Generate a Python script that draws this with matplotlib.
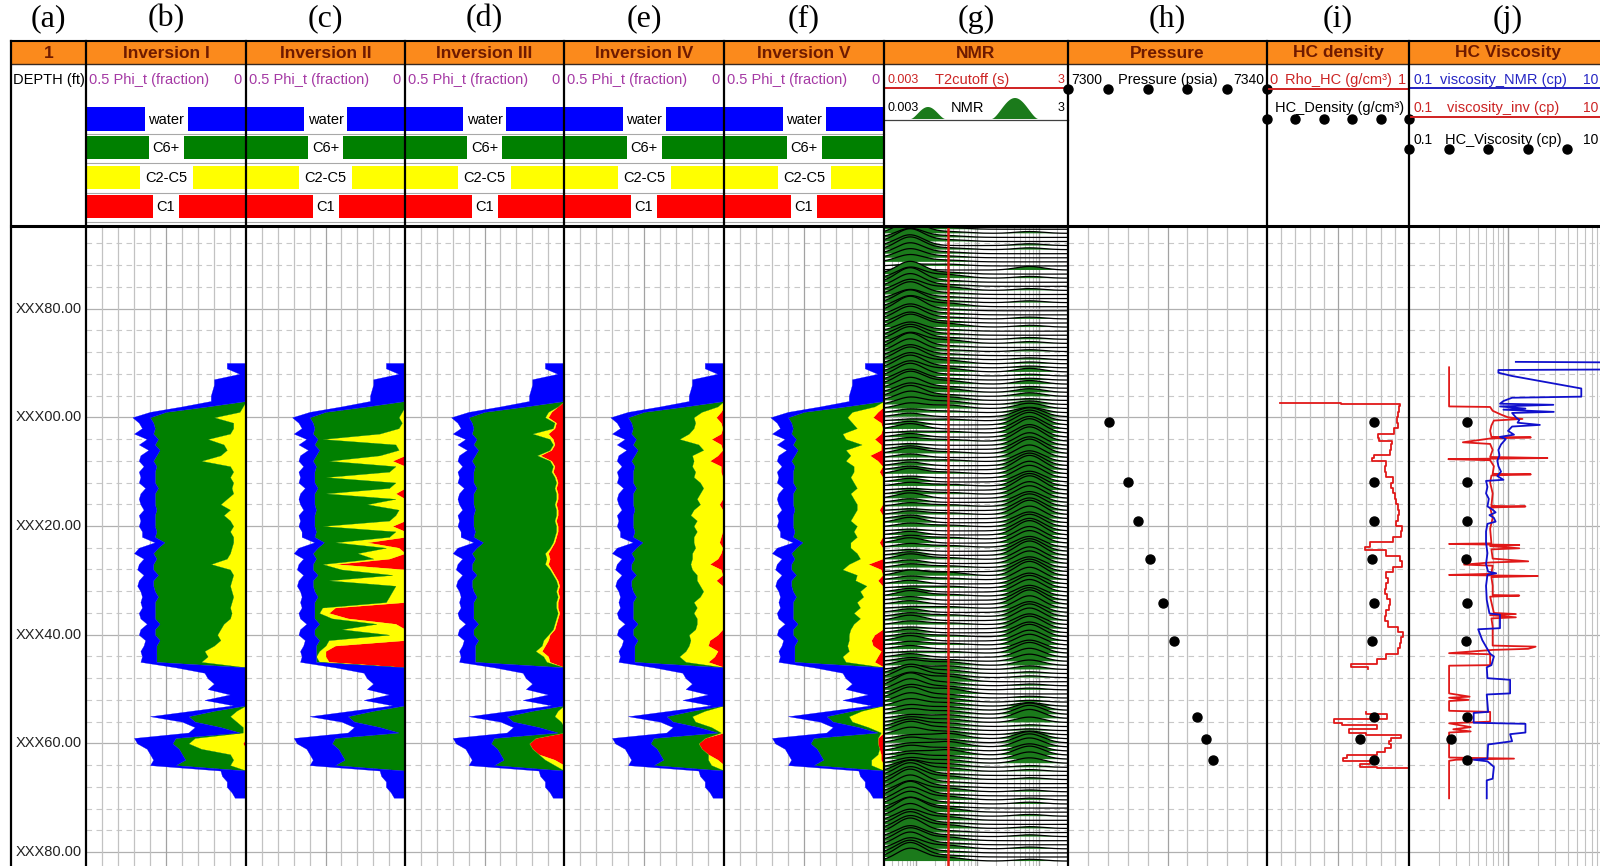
import numpy as np
import matplotlib.pyplot as plt
from matplotlib.patches import Rectangle

plt.rcParams['font.family'] = ['Liberation Sans', 'DejaVu Sans']

# ----------------------------
# Data
# ----------------------------
PANEL_TAGS = ["(a)", "(b)", "(c)", "(d)", "(e)", "(f)", "(g)", "(h)", "(i)", "(j)"]
TRACK_TITLES = ["1", "Inversion I", "Inversion II", "Inversion III", "Inversion IV",
                "Inversion V", "NMR", "Pressure", "HC density", "HC Viscosity"]
COMPONENTS = ["water", "C6+", "C2-C5", "C1"]

DEPTH_TICKS = [-20, 0, 20, 40, 60, 80]
DEPTH_LABELS = ["XXX80.00", "XXX00.00", "XXX20.00", "XXX40.00", "XXX60.00", "XXX80.00"]

# inversion logs, one sample per foot from -10 to 70
INV_DEPTH = np.arange(-10, 71)
PHI_T = [
    0.06, 0.06, 0.02, 0.10, 0.10, 0.105, 0.11, 0.11, 0.20, 0.30,
    0.355, 0.335, 0.325, 0.35, 0.31, 0.335, 0.305, 0.33, 0.335, 0.32,
    0.335, 0.33, 0.335, 0.315, 0.33, 0.335, 0.33, 0.32, 0.335, 0.33,
    0.335, 0.325, 0.325, 0.285, 0.335, 0.35, 0.32, 0.335, 0.34, 0.32,
    0.335, 0.34, 0.33, 0.325, 0.33, 0.325, 0.335, 0.33, 0.31, 0.33,
    0.335, 0.315, 0.32, 0.33, 0.325, 0.33, 0.22, 0.13, 0.12, 0.10,
    0.12, 0.05, 0.13, 0.04, 0.17, 0.30, 0.20, 0.16, 0.18, 0.35,
    0.34, 0.31, 0.30, 0.29, 0.30, 0.08, 0.075, 0.06, 0.06, 0.045,
    0.035,
]
WATER = [
    0.06, 0.06, 0.02, 0.10, 0.10, 0.105, 0.11, 0.11, 0.08, 0.05,
    0.055, 0.045, 0.04, 0.06, 0.035, 0.05, 0.035, 0.05, 0.045, 0.04,
    0.05, 0.045, 0.05, 0.04, 0.045, 0.05, 0.045, 0.04, 0.05, 0.045,
    0.05, 0.045, 0.04, 0.03, 0.06, 0.06, 0.04, 0.045, 0.05, 0.045,
    0.045, 0.05, 0.045, 0.05, 0.045, 0.04, 0.05, 0.045, 0.04, 0.045,
    0.05, 0.045, 0.04, 0.05, 0.045, 0.05, 0.22, 0.13, 0.12, 0.10,
    0.12, 0.05, 0.13, 0.04, 0.07, 0.12, 0.04, 0.08, 0.16, 0.13,
    0.11, 0.10, 0.10, 0.10, 0.08, 0.08, 0.075, 0.06, 0.06, 0.045,
    0.035,
]

C1_INV1 = [
    0, 0, 0, 0, 0, 0, 0, 0, 0, 0,
    0, 0, 0, 0, 0, 0, 0, 0, 0, 0,
    0, 0, 0, 0, 0, 0, 0, 0, 0, 0,
    0, 0, 0, 0, 0, 0, 0, 0, 0, 0,
    0, 0, 0, 0, 0, 0, 0, 0, 0, 0,
    0, 0, 0, 0, 0, 0, 0, 0, 0, 0,
    0, 0, 0, 0, 0, 0, 0, 0, 0, 0,
    0.01, 0, 0, 0, 0, 0, 0, 0, 0, 0,
    0,
]
C25_INV1 = [
    0, 0, 0, 0, 0, 0, 0, 0, 0.01, 0.02,
    0.10, 0.04, 0.04, 0.05, 0.12, 0.07, 0.06, 0.08, 0.14, 0.05,
    0.04, 0.05, 0.04, 0.045, 0.04, 0.06, 0.08, 0.05, 0.07, 0.05,
    0.04, 0.05, 0.04, 0.04, 0.045, 0.05, 0.06, 0.11, 0.05, 0.04,
    0.045, 0.05, 0.045, 0.04, 0.045, 0.05, 0.045, 0.05, 0.07, 0.08,
    0.09, 0.08, 0.10, 0.13, 0.12, 0.14, 0, 0, 0, 0,
    0, 0, 0, 0, 0.03, 0.05, 0.03, 0.01, 0.01, 0.16,
    0.17, 0.14, 0.05, 0.04, 0.05, 0, 0, 0, 0, 0,
    0,
]

C1_INV2 = [
    0, 0, 0, 0, 0, 0, 0, 0, 0, 0,
    0, 0, 0, 0, 0, 0, 0, 0, 0.04, 0,
    0, 0, 0, 0, 0.03, 0, 0, 0, 0, 0,
    0.04, 0, 0, 0.12, 0.02, 0, 0.05, 0.22, 0, 0,
    0, 0, 0, 0, 0, 0.22, 0.24, 0.18, 0.03, 0,
    0, 0, 0.22, 0.25, 0.25, 0.24, 0, 0, 0, 0,
    0, 0, 0, 0, 0, 0, 0, 0, 0, 0,
    0, 0, 0, 0, 0, 0, 0, 0, 0, 0,
    0,
]
C25_INV2 = [
    0, 0, 0, 0, 0, 0, 0, 0, 0, 0.01,
    0.02, 0.01, 0.02, 0.08, 0.26, 0.03, 0.02, 0.08, 0.20, 0.03,
    0.05, 0.25, 0.03, 0.05, 0.22, 0.03, 0.12, 0.02, 0.03, 0.05,
    0.22, 0.03, 0.05, 0.10, 0.04, 0.15, 0.05, 0.04, 0.20, 0.04,
    0.24, 0.03, 0.04, 0.05, 0.06, 0.04, 0.03, 0.05, 0.06, 0.20,
    0.05, 0.24, 0.03, 0.02, 0.03, 0.03, 0, 0, 0, 0,
    0, 0, 0, 0, 0, 0, 0, 0, 0, 0,
    0, 0, 0, 0, 0, 0, 0, 0, 0, 0,
    0,
]

C1_INV3 = [
    0, 0, 0, 0, 0, 0, 0, 0, 0.02, 0.04,
    0.05, 0.025, 0.03, 0.05, 0.035, 0.03, 0.04, 0.075, 0.04, 0.03,
    0.035, 0.025, 0.02, 0.025, 0.02, 0.02, 0.025, 0.02, 0.02, 0.025,
    0.02, 0.02, 0.025, 0.03, 0.04, 0.05, 0.045, 0.05, 0.04, 0.03,
    0.02, 0.015, 0.02, 0.015, 0.02, 0.02, 0.015, 0.02, 0.025, 0.03,
    0.045, 0.05, 0.06, 0.07, 0.05, 0.045, 0, 0, 0, 0,
    0, 0, 0, 0, 0, 0, 0, 0, 0, 0.09,
    0.11, 0.10, 0.08, 0.03, 0, 0, 0, 0, 0, 0,
    0,
]
C25_INV3 = [
    0, 0, 0, 0, 0, 0, 0, 0, 0, 0.01,
    0.01, 0.005, 0.005, 0.05, 0.01, 0.005, 0.005, 0.01, 0.005, 0.005,
    0.005, 0.005, 0.005, 0.005, 0.005, 0.005, 0.005, 0.005, 0.005, 0.005,
    0.005, 0.005, 0.005, 0.005, 0.005, 0.01, 0.01, 0.01, 0.005, 0.005,
    0.005, 0.005, 0.005, 0.005, 0.005, 0.005, 0.005, 0.005, 0.005, 0.005,
    0.005, 0.015, 0.01, 0.02, 0.015, 0.01, 0, 0, 0, 0,
    0, 0, 0, 0, 0.02, 0.03, 0.01, 0, 0, 0,
    0, 0, 0, 0.03, 0.03, 0, 0, 0, 0, 0,
    0,
]

C1_INV4 = [
    0, 0, 0, 0, 0, 0, 0, 0, 0, 0.01,
    0.025, 0.01, 0.005, 0.01, 0.04, 0.01, 0.005, 0.02, 0.045, 0.01,
    0.01, 0.005, 0.005, 0.005, 0.005, 0.005, 0.015, 0.005, 0.005, 0.005,
    0.005, 0.005, 0.01, 0.015, 0.005, 0.01, 0.02, 0.045, 0.01, 0.005,
    0.025, 0.005, 0.005, 0.005, 0.005, 0.005, 0.005, 0.005, 0.005, 0.005,
    0.02, 0.045, 0.05, 0.02, 0.03, 0.05, 0, 0, 0, 0,
    0, 0, 0, 0, 0, 0, 0, 0, 0, 0.06,
    0.08, 0.07, 0.05, 0.02, 0, 0, 0, 0, 0, 0,
    0,
]
C25_INV4 = [
    0, 0, 0, 0, 0, 0, 0, 0, 0.02, 0.06,
    0.07, 0.08, 0.09, 0.10, 0.10, 0.07, 0.06, 0.08, 0.05, 0.09,
    0.08, 0.09, 0.07, 0.06, 0.07, 0.08, 0.06, 0.09, 0.10, 0.08,
    0.09, 0.08, 0.085, 0.08, 0.085, 0.09, 0.08, 0.06, 0.09, 0.08,
    0.06, 0.07, 0.06, 0.07, 0.09, 0.08, 0.09, 0.08, 0.08, 0.085,
    0.09, 0.06, 0.06, 0.10, 0.11, 0.07, 0, 0, 0, 0,
    0, 0, 0, 0, 0.06, 0.10, 0.09, 0.04, 0.01, 0,
    0, 0, 0, 0.03, 0.04, 0, 0, 0, 0, 0,
    0,
]

C1_INV5 = [
    0, 0, 0, 0, 0, 0, 0, 0, 0, 0.02,
    0.035, 0.01, 0.005, 0.01, 0.03, 0.01, 0.01, 0.045, 0.02, 0.005,
    0.015, 0.005, 0.005, 0.005, 0.005, 0.005, 0.005, 0.015, 0.005, 0.005,
    0.005, 0.005, 0.005, 0.015, 0.005, 0.005, 0.005, 0.05, 0.01, 0.005,
    0.02, 0.005, 0.005, 0.005, 0.005, 0.005, 0.005, 0.005, 0.005, 0.005,
    0.03, 0.04, 0.035, 0.01, 0.02, 0.03, 0, 0, 0, 0,
    0, 0, 0, 0, 0, 0, 0, 0, 0, 0.02,
    0.02, 0.015, 0.01, 0.01, 0, 0, 0, 0, 0, 0,
    0,
]
C25_INV5 = [
    0, 0, 0, 0, 0, 0, 0, 0, 0.03, 0.08,
    0.08, 0.09, 0.08, 0.12, 0.09, 0.06, 0.11, 0.06, 0.10, 0.09,
    0.08, 0.10, 0.09, 0.08, 0.10, 0.09, 0.08, 0.07, 0.09, 0.10,
    0.08, 0.09, 0.08, 0.09, 0.10, 0.08, 0.07, 0.06, 0.12, 0.08,
    0.07, 0.05, 0.07, 0.06, 0.08, 0.07, 0.09, 0.07, 0.09, 0.10,
    0.08, 0.07, 0.08, 0.10, 0.11, 0.09, 0, 0, 0, 0,
    0, 0, 0, 0, 0.07, 0.11, 0.10, 0.05, 0.01, 0,
    0, 0, 0.01, 0.03, 0.04, 0, 0, 0, 0, 0,
    0,
]

# NMR T2 distributions, one row every 0.75 ft: amplitude of the short,
# intermediate and long T2 modes
NMR_TOP = -34.6
NMR_STEP = 0.75
NMR_SHORT = [
    6, 7, 5, 7, 6, 7, 6, 5, 4,
    1, 1,
    7, 6, 8, 7, 6, 7, 5, 7, 6, 8, 6, 7, 6, 7, 5, 6, 7, 6, 8, 7, 6, 7, 6,
    7, 6, 7, 6, 7, 6, 5, 6, 5, 4, 3,
    2, 2, 1, 2, 3, 1, 2, 2, 1, 2, 3, 2, 1, 2, 2, 3, 1, 2, 2, 1, 2, 3,
    2, 2, 1, 2, 2, 3, 2, 1, 2, 2, 3, 2, 1, 2, 3, 2, 2, 1, 3, 2, 2, 1,
    2, 3, 2, 2, 1, 2, 2, 3, 2, 1, 2, 2, 3, 2, 2, 1, 2, 2, 3, 2,
    5, 6, 5, 7, 6, 5, 6, 5, 4,
    3, 3, 2, 3,
    4, 5, 4,
    2, 3, 2, 3, 2, 3, 3, 4,
    6, 7, 7, 8, 7, 6, 8, 7, 7, 6, 8, 7, 6, 7, 7, 8, 6, 7, 7, 6, 7, 8, 7,
]
NMR_MID = [
    1, 1, 1, 1, 0, 1, 1, 1, 1,
    1, 0,
    1, 2, 1, 1, 2, 1, 1, 1, 2, 1, 1, 1, 1, 2, 1, 1, 1, 2, 1, 1, 1, 1, 2,
    1, 2, 1, 1, 2, 1, 2, 1, 2, 2, 2,
    1, 0, 1, 0, 0, 1, 0, 1, 0, 0, 1, 0, 1, 0, 0, 1, 0, 0, 1, 0, 1, 0,
    0, 1, 0, 1, 0, 0, 1, 0, 0, 1, 0, 1, 0, 0, 1, 0, 1, 0, 2, 1, 0, 1,
    0, 1, 0, 0, 1, 0, 1, 0, 1, 0, 0, 1, 0, 1, 0, 1, 0, 1, 2, 2,
    2, 2, 3, 2, 2, 3, 2, 2, 2,
    2, 2, 2, 2,
    2, 2, 2,
    3, 2, 3, 2, 3, 2, 2, 2,
    2, 1, 2, 1, 1, 2, 1, 2, 1, 1, 2, 1, 2, 1, 2, 1, 1, 2, 1, 2, 1, 1, 2,
]
NMR_LONG = [
    0, 1, 0, 0, 1, 1, 0, 0, 0,
    0, 2,
    0, 1, 0, 0, 1, 0, 0, 1, 0, 0, 0, 1, 0, 1, 0, 0, 1, 1, 0, 1, 0, 1, 1,
    1, 2, 1, 1, 2, 1, 2, 2, 1, 2, 3,
    3, 5, 6, 7, 7, 8, 7, 8, 7, 7, 8, 7, 6, 7, 8, 7, 7, 6, 7, 8, 7, 7,
    6, 7, 7, 8, 7, 6, 7, 7, 8, 7, 7, 6, 7, 8, 7, 7, 6, 7, 8, 7, 6, 7,
    7, 6, 7, 8, 7, 6, 7, 7, 6, 7, 6, 7, 6, 6, 5, 6, 5, 4, 3, 2,
    1, 1, 0, 1, 1, 0, 1, 1, 2,
    4, 5, 5, 3,
    1, 1, 2,
    4, 5, 5, 4, 5, 4, 3, 1,
    1, 0, 1, 0, 0, 1, 0, 1, 1, 0, 0, 1, 0, 0, 1, 0, 1, 0, 0, 1, 0, 0, 1,
]
T2_CUTOFF = 0.033

# pressure test stations
PT_DEPTH = [0.8, 11.9, 19.0, 26.0, 34.1, 41.1, 55.2, 59.2, 63.0]
PRESSURE = [7308.2, 7312.0, 7314.0, 7316.5, 7319.0, 7321.4, 7326.0, 7327.8, 7329.1]
HC_DENSITY = [0.756, 0.756, 0.756, 0.737, 0.756, 0.739, 0.752, 0.655, 0.756]
HC_VISCOSITY = [0.385, 0.385, 0.385, 0.378, 0.385, 0.378, 0.385, 0.265, 0.385]

RHO_DEPTH = [
    -2.6, -2.4, -2.0, -1.0, 0.0, 1.0, 2.0, 3.0, 3.8, 4.3,
    5.0, 6.0, 7.0, 7.5, 8.0, 9.0, 10.0, 11.0, 12.0, 13.0,
    14.0, 15.0, 16.0, 17.0, 18.0, 19.0, 20.0, 21.0, 22.0, 23.0,
    23.8, 24.5, 25.5, 26.5, 27.5, 28.5, 29.5, 30.5, 31.5, 32.5,
    33.5, 34.5, 35.5, 36.5, 37.5, 38.5, 39.5, 40.5, 41.5, 42.5,
    43.5, 44.5, 45.3, 46.0, 46.3, 50.0,
    54.2, 54.5, 55.5, 56.3, 56.6, 57.3, 58.1, 58.4, 59.0, 59.6,
    60.2, 60.8, 61.5, 62.2, 62.7, 63.2, 63.8, 64.3, 64.6,
]
RHO_HC = [
    0.09, 0.95, 0.92, 0.94, 0.90, 0.93, 0.91, 0.88, 0.68, 0.90,
    0.86, 0.89, 0.84, 0.66, 0.82, 0.86, 0.80, 0.87, 0.90, 0.84,
    0.93, 0.87, 0.95, 0.90, 0.96, 0.88, 0.93, 0.97, 0.92, 0.85,
    0.60, 0.78, 0.90, 0.98, 0.92, 0.85, 0.82, 0.88, 0.80, 0.86,
    0.83, 0.90, 0.82, 0.86, 0.80, 0.90, 0.95, 0.97, 0.92, 0.96,
    0.88, 0.80, 0.75, 0.43, 0.99, np.nan,
    0.40, 0.99, 0.70, 0.25, 0.80, 0.75, 0.40, 0.99, 0.90, 0.84,
    0.88, 0.86, 0.80, 0.75, 0.37, 0.70, 0.75, 0.56, 0.99,
]

VISC_INV_DEPTH = [
    -9.2, -2.0, -1.9, -1.2, -0.5, 0.0, 0.3, 0.6, 1.5, 2.5,
    3.6, 3.7, 3.9, 4.6, 4.9, 6.0, 7.3, 7.5, 7.7, 7.9,
    9.0, 10.4, 10.5, 10.7, 12.0, 14.0, 16.3, 16.4, 16.6, 18.5,
    20.5, 23.2, 23.3, 23.5, 23.7, 24.1, 24.3, 26.0, 26.5, 26.7,
    27.1, 27.3, 28.8, 29.0, 29.2, 29.4, 31.0, 32.7, 32.8, 33.0,
    36.0, 36.2, 36.4, 36.8, 37.0, 38.5, 42.0, 42.2, 42.6, 42.8,
    43.4, 43.6, 45.6, 45.7, 50.8, 51.4, 51.6, 52.0, 52.2, 54.0,
    54.2, 56.0, 56.3, 57.0, 57.4, 57.8, 58.0, 62.6, 62.8, 63.0,
    63.2, 70.1,
]
VISC_INV = [
    0.254, 0.254, 0.66, 0.70, 0.85, 1.0, 1.4, 0.72, 0.68, 0.66,
    0.68, 1.7, 0.66, 0.35, 0.66, 0.70, 0.66, 2.5, 0.25, 0.66,
    0.72, 0.70, 1.7, 0.68, 0.66, 0.70, 0.68, 1.5, 0.66, 0.70,
    0.66, 0.68, 0.254, 1.3, 0.66, 1.3, 0.68, 0.70, 1.6, 0.68,
    0.36, 0.70, 0.68, 0.254, 2.0, 0.68, 0.70, 0.70, 1.3, 0.66,
    0.72, 1.2, 0.66, 1.2, 0.68, 0.70, 0.70, 1.9, 1.6, 0.70,
    0.254, 0.66, 0.66, 0.254, 0.254, 0.41, 0.254, 0.40, 0.254, 0.254,
    0.66, 0.66, 0.254, 0.42, 0.28, 0.42, 0.254, 0.254, 1.15, 0.30,
    0.254, 0.254,
]

VISC_NMR_DEPTH = [
    -10.2, -10.1, -8.8, -8.7, -8.2, -7.6, -5.3, -3.8, -3.6, -3.0,
    -2.5, -2.3, -2.0, -1.6, -1.4, -1.0, -0.8, 0.0, 0.5, 1.0,
    1.4, 1.7, 2.5, 3.2, 3.6, 4.0, 5.0, 6.0, 7.0, 8.0,
    9.0, 10.0, 10.8, 11.5, 11.7, 12.8, 14.0, 15.0, 16.4, 17.0,
    17.5, 18.0, 18.5, 19.2, 19.6, 21.0, 23.0, 25.0, 27.0, 28.4,
    28.7, 29.0, 31.0, 33.6, 36.1, 36.3, 38.8, 39.0, 41.0, 42.2,
    43.5, 44.0, 45.6, 46.0, 48.0, 48.3, 50.8, 51.0, 54.2, 54.4,
    56.2, 56.4, 58.0, 58.3, 59.6, 60.2, 62.8, 63.0, 63.3, 64.3,
    66.5, 66.8, 70.1,
]
VISC_NMR = [
    1.2, 12.0, 12.0, 0.8, 0.8, 1.1, 5.5, 5.5, 1.1, 0.9,
    0.83, 2.87, 0.83, 1.5, 0.9, 2.9, 1.1, 1.2, 1.3, 1.25,
    2.1, 1.1, 1.0, 1.15, 0.83, 0.95, 0.85, 0.80, 0.82, 0.78,
    0.80, 0.85, 0.78, 0.90, 0.60, 0.62, 0.60, 0.64, 0.62, 0.70,
    0.75, 0.65, 0.72, 0.75, 0.62, 0.60, 0.60, 0.62, 0.60, 0.63,
    0.76, 0.62, 0.60, 0.61, 0.65, 0.83, 0.83, 0.50, 0.55, 0.60,
    0.66, 0.72, 0.68, 0.61, 0.62, 1.05, 1.05, 0.61, 0.63, 0.45,
    0.45, 1.5, 1.5, 1.05, 1.1, 0.63, 0.62, 0.45, 0.62, 0.72,
    0.70, 0.61, 0.61,
]

# ----------------------------
# Layout (pixels)
# ----------------------------
W, H = 1600, 866
TRACK_X = [11, 86, 246, 405, 564, 724, 884, 1068, 1267, 1409, 1607]
DATA_TOP = 226
Y_DEPTH0 = 417.3      # pixel row of depth 0
PX_PER_FT = 5.435

ORANGE = "#fb8a1c"
TITLE_COLOR = "#6e1a00"
PURPLE = "#a53aa5"
RED_TXT = "#cc2424"
BLUE_TXT = "#2626c4"
FILL_COLORS = {"water": "#0000ff", "C6+": "#008000", "C2-C5": "#ffff00", "C1": "#ff0000"}
NMR_GREEN = "#1b7a1b"
GRID = "#c2c2c2"
GRID_DARK = "#a2a2a2"

D_TOP = (DATA_TOP - Y_DEPTH0) / PX_PER_FT
D_BOT = (H - Y_DEPTH0) / PX_PER_FT


def depth_px(d):
    return Y_DEPTH0 + d * PX_PER_FT


fig = plt.figure(figsize=(W / 100, H / 100), dpi=100)


def make_track(k, xlim, log=False):
    x0, x1 = TRACK_X[k], TRACK_X[k + 1]
    ax = fig.add_axes([x0 / W, 0, (x1 - x0) / W, (H - DATA_TOP) / H])
    if log:
        ax.set_xscale("log")
    ax.set_xlim(*xlim)
    ax.set_ylim(D_BOT, D_TOP)
    ax.axis("off")
    for d in range(-32, 84, 4):
        if d % 20 == 0:
            ax.axhline(d, color="#b0b0b0", lw=0.9, zorder=0.5)
        else:
            ax.axhline(d, color="#c8c8c8", lw=0.8, ls=(0, (5, 4)), zorder=0.5)
    lo, hi = sorted(xlim)
    if log:
        e0, e1 = int(np.floor(np.log10(lo))), int(np.ceil(np.log10(hi)))
        for e in range(e0, e1 + 1):
            for m in range(1, 10):
                v = m * 10.0 ** e
                if lo < v < hi:
                    ax.axvline(v, color=GRID_DARK if m == 1 else GRID,
                               lw=1.0 if m == 1 else 0.8, zorder=0.5)
    else:
        for j, v in enumerate(np.linspace(lo, hi, 11)[1:-1]):
            ax.axvline(v, color=GRID_DARK if j == 4 else GRID, lw=0.9, zorder=0.5)
    return ax


# ----------------------------
# Inversion tracks (b)-(f)
# ----------------------------
phi = np.array(PHI_T)
hc = phi - np.array(WATER)
inversions = [(C1_INV1, C25_INV1), (C1_INV2, C25_INV2), (C1_INV3, C25_INV3),
              (C1_INV4, C25_INV4), (C1_INV5, C25_INV5)]
for k, (c1, c25) in enumerate(inversions, start=1):
    ax = make_track(k, (0.5, 0))
    c1 = np.array(c1, dtype=float)
    light = c1 + np.array(c25, dtype=float)
    layers = [(0, c1, "C1"), (c1, light, "C2-C5"), (light, hc, "C6+"), (hc, phi, "water")]
    for left, right, name in layers:
        ax.fill_betweenx(INV_DEPTH, left, right, facecolor=FILL_COLORS[name],
                         edgecolor=FILL_COLORS[name], lw=0.2, zorder=2)

# ----------------------------
# NMR track (g)
# ----------------------------
ax = make_track(6, (0.003, 3), log=True)
log_t2 = np.linspace(np.log10(0.003), np.log10(3), 260)
t2 = 10 ** log_t2
modes = [(-2.1, 0.22), (-1.5, 0.28), (-0.15, 0.22)]
for i, (s, m, l) in enumerate(zip(NMR_SHORT, NMR_MID, NMR_LONG)):
    d = NMR_TOP + i * NMR_STEP
    amp = sum(a * np.exp(-0.5 * ((log_t2 - c) / w) ** 2)
              for a, (c, w) in zip((s, m, l), modes))
    top = d - 0.33 * amp
    z = 2 + i * 0.01
    ax.fill_between(t2, top, d, facecolor=NMR_GREEN, edgecolor="none", zorder=z)
    ax.plot(t2, top, color="black", lw=0.9, zorder=z + 0.005)
ax.axvline(T2_CUTOFF, color="#e01a10", lw=1.8, zorder=20)

# ----------------------------
# Pressure track (h)
# ----------------------------
ax = make_track(7, (7300, 7340))
ax.plot(PRESSURE, PT_DEPTH, "o", color="black", ms=6.5, zorder=5)

# ----------------------------
# HC density track (i)
# ----------------------------
ax = make_track(8, (0, 1))
ax.plot(RHO_HC, RHO_DEPTH, color="#e01818", lw=1.3, drawstyle="steps-mid", zorder=4)
ax.plot(HC_DENSITY, PT_DEPTH, "o", color="black", ms=6.5, zorder=5)

# ----------------------------
# HC viscosity track (j)
# ----------------------------
ax = make_track(9, (0.1, 10), log=True)
ax.plot(VISC_INV, VISC_INV_DEPTH, color="#e01818", lw=1.3, zorder=4)
ax.plot(VISC_NMR, VISC_NMR_DEPTH, color="#1010cc", lw=1.3, zorder=4)
ax.plot(HC_VISCOSITY, PT_DEPTH, "o", color="black", ms=6.5, zorder=5)

# ----------------------------
# Header, borders and labels (pixel overlay)
# ----------------------------
ov = fig.add_axes([0, 0, 1, 1], zorder=10)
ov.set_xlim(0, W)
ov.set_ylim(H, 0)
ov.axis("off")

X0, X1 = TRACK_X[0], TRACK_X[-1]
ov.add_patch(Rectangle((X0, 41), X1 - X0, 23, facecolor=ORANGE, edgecolor="none"))
ov.plot([X0, X1], [41, 41], color="black", lw=1.5)
ov.plot([X0, X1], [64, 64], color="#3a2a20", lw=1.0)

for k, (tag, title) in enumerate(zip(PANEL_TAGS, TRACK_TITLES)):
    xc = (TRACK_X[k] + TRACK_X[k + 1]) / 2
    ov.text(xc, 19, tag, ha="center", va="center", fontsize=23,
            family=["Liberation Serif", "DejaVu Serif"])
    ov.text(xc, 53, title, ha="center", va="center", fontsize=12.5,
            fontweight="bold", color=TITLE_COLOR)

LABEL_Y = 80
ov.text(X0 + 2, LABEL_Y, "DEPTH (ft)", ha="left", va="center", fontsize=10.5)

# inversion legend rows
BAR_ROWS = [(107, 131), (136, 159), (166, 189), (195, 218)]
BOX_W = [43, 35, 53, 26]
for k in range(1, 6):
    x0, x1 = TRACK_X[k], TRACK_X[k + 1]
    xc = (x0 + x1) / 2
    ov.text(x0 + 3, LABEL_Y, "0.5 Phi_t (fraction)", ha="left", va="center",
            fontsize=10.5, color=PURPLE)
    ov.text(x1 - 4, LABEL_Y, "0", ha="right", va="center", fontsize=10.5, color=PURPLE)
    for (ya, yb), name, bw in zip(BAR_ROWS, COMPONENTS, BOX_W):
        ov.add_patch(Rectangle((x0 + 1, ya), x1 - x0 - 2, yb - ya,
                               facecolor=FILL_COLORS[name], edgecolor="none"))
        ov.add_patch(Rectangle((xc - bw / 2, ya), bw, yb - ya,
                               facecolor="white", edgecolor="none"))
        ov.text(xc, (ya + yb) / 2 + 0.5, name, ha="center", va="center", fontsize=10.5)
    for yl in (133.5, 162.5, 192.5, 221.5):
        ov.plot([x0, x1], [yl, yl], color="#a8a8a8", lw=0.8)

# NMR header
x0, x1 = TRACK_X[6], TRACK_X[7]
ov.text(x0 + 4, LABEL_Y, "0.003", ha="left", va="center", fontsize=9, color=RED_TXT)
ov.text((x0 + x1) / 2 - 4, LABEL_Y, "T2cutoff (s)", ha="center", va="center",
        fontsize=10.5, color=RED_TXT)
ov.text(x1 - 4, LABEL_Y, "3", ha="right", va="center", fontsize=9, color=RED_TXT)
ov.plot([x0, x1], [88, 88], color="#d02020", lw=1.4)
for bx0, bx1, bh in ((911, 945, 12), (992, 1038, 21)):
    bx = np.linspace(bx0, bx1, 40)
    by = 119 - bh * np.sin(np.linspace(0, np.pi, 40)) ** 1.5
    ov.fill_between(bx, by, 119, facecolor=NMR_GREEN, edgecolor="none")
ov.text(x0 + 4, 108, "0.003", ha="left", va="center", fontsize=9)
ov.text(968, 108, "NMR", ha="center", va="center", fontsize=10.5)
ov.text(x1 - 4, 108, "3", ha="right", va="center", fontsize=9)
ov.plot([x0, x1], [119.5, 119.5], color="#404040", lw=0.9)

# pressure header
x0, x1 = TRACK_X[7], TRACK_X[8]
ov.text(x0 + 3, LABEL_Y, "7300", ha="left", va="center", fontsize=10)
ov.text((x0 + x1) / 2, LABEL_Y, "Pressure (psia)", ha="center", va="center", fontsize=10.5)
ov.text(x1 - 3, LABEL_Y, "7340", ha="right", va="center", fontsize=10)
ov.plot(np.linspace(x0, x1, 6), [89] * 6, "o", color="black", ms=6.5, clip_on=False)

# HC density header
x0, x1 = TRACK_X[8], TRACK_X[9]
ov.text(x0 + 2, LABEL_Y, "0", ha="left", va="center", fontsize=10.5, color=RED_TXT)
ov.text((x0 + x1) / 2, LABEL_Y, "Rho_HC (g/cm³)", ha="center", va="center",
        fontsize=10.5, color=RED_TXT)
ov.text(x1 - 3, LABEL_Y, "1", ha="right", va="center", fontsize=10.5, color=RED_TXT)
ov.plot([x0, x1], [88.5, 88.5], color="#d02020", lw=1.4)
ov.text((x0 + x1) / 2 + 2, 108, "HC_Density (g/cm³)", ha="center", va="center", fontsize=10.5)
ov.plot(np.linspace(x0, x1, 6), [118.5] * 6, "o", color="black", ms=6.5, clip_on=False)

# HC viscosity header (the track runs a little past the right edge of the sheet)
x0, x1 = TRACK_X[9], TRACK_X[10]
rows = [(LABEL_Y, "viscosity_NMR (cp)", BLUE_TXT), (108, "viscosity_inv (cp)", RED_TXT),
        (140, "HC_Viscosity (cp)", "black")]
for ty, name, col in rows:
    ov.text(x0 + 5, ty, "0.1", ha="left", va="center", fontsize=10, color=col)
    ov.text((x0 + x1) / 2 - 5, ty, name, ha="center", va="center", fontsize=10.5, color=col)
    ov.text(W - 2, ty, "10", ha="right", va="center", fontsize=10, color=col)
ov.plot([x0, x1], [88, 88], color="#2020c0", lw=1.4)
ov.plot([x0, x1], [117, 117], color="#d02020", lw=1.4)
ov.plot(np.linspace(x0, x1, 6), [149] * 6, "o", color="black", ms=6.5, clip_on=False)

# frame and track separators
ov.plot([X0, X1], [DATA_TOP, DATA_TOP], color="black", lw=2.2)
for x in TRACK_X:
    ov.plot([x, x], [41, H], color="black", lw=1.6)

# depth labels
for d, lab in zip(DEPTH_TICKS, DEPTH_LABELS):
    ov.text(TRACK_X[1] - 4, depth_px(d), lab, ha="right", va="center",
            fontsize=10.5, color="#222222")

fig.savefig("out.png", dpi=100)
